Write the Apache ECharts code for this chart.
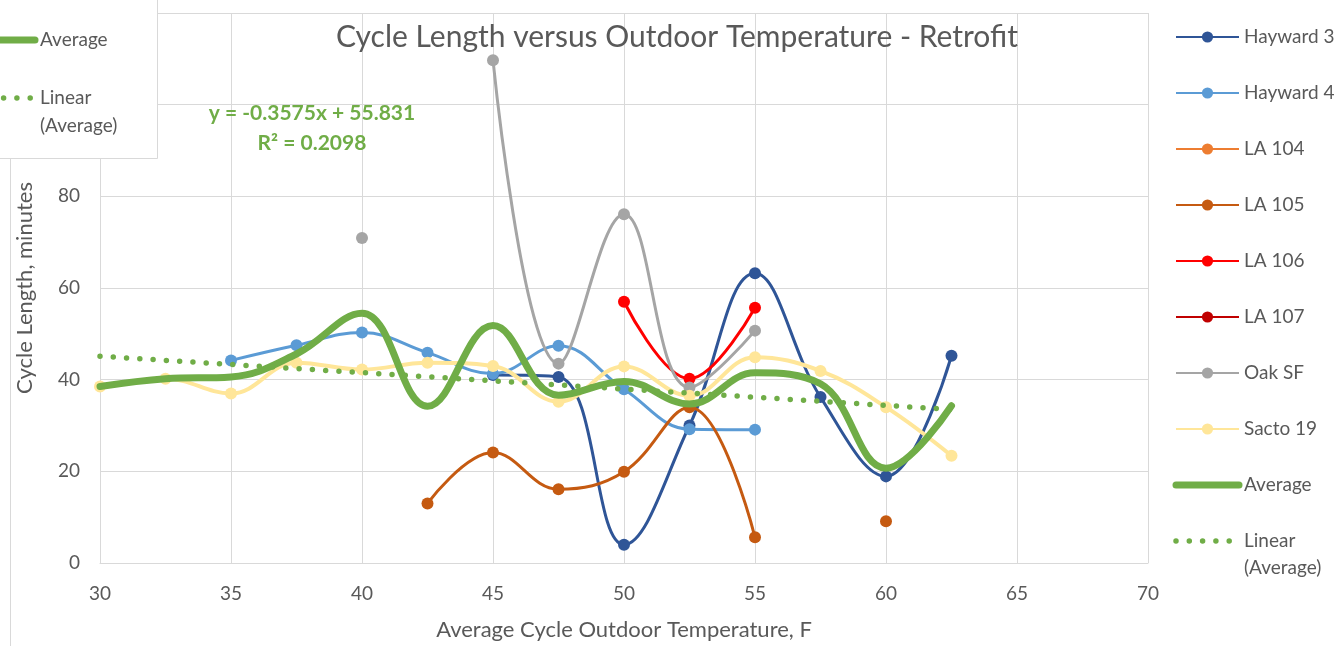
<!DOCTYPE html>
<html>
<head>
<meta charset="utf-8">
<script src="https://cdn.jsdelivr.net/npm/echarts@6/dist/echarts.min.js"></script>
<style>
  html, body { margin: 0; padding: 0; background: #ffffff; }
  #chart { width: 1337px; height: 646px; }
</style>
</head>
<body>
<div id="chart"></div>
<script>
// Average cycle outdoor temperature (F) at which cycle lengths were binned
const TEMPS = [30, 32.5, 35, 37.5, 40, 42.5, 45, 47.5, 50, 52.5, 55, 57.5, 60, 62.5];

// Cycle length in minutes per site (null = no cycles in that bin)
const HAYWARD_3 = [null, null, null, null, null, null, 41, 40.6, 4, 30, 63.2, 36.2, 18.9, 45.2];
const HAYWARD_4 = [null, null, 44.2, 47.5, 50.3, 45.9, 41.3, 47.4, 37.9, 29.2, 29.1, null, null, null];
const LA_104 = [null, null, null, null, null, null, null, null, null, null, null, null, null, null];
const LA_105 = [null, null, null, null, null, 13, 24.1, 16.1, 19.9, 34, 5.6, null, 9.1, null];
const LA_106 = [null, null, null, null, null, null, null, null, 57, 40.2, 55.7, null, null, null];
const LA_107 = [null, null, null, null, null, null, null, null, null, null, null, null, null, null];
const OAK_SF = [null, null, null, null, 70.9, null, 109.7, 43.5, 76.1, 38.3, 50.7, null, null, null];
const SACTO_19 = [38.5, 40.2, 37, 43.7, 42.2, 43.7, 43, 35.2, 42.9, 36.5, 44.9, 41.9, 34, 23.4];
const AVERAGE = [38.5, 40.2, 40.6, 45.6, 54.5, 34.2, 51.8, 36.6, 39.6, 34.7, 41.5, 39.1, 20.7, 34.3];

// Linear fit of the average curve
const TREND_SLOPE = -0.3575;
const TREND_INTERCEPT = 55.831;
const TREND_R2 = 0.2098;
const TREND_RANGE = [30, 62.5];

// Axis ranges and tick steps
const X_MIN = 30, X_MAX = 70, X_STEP = 5;
const Y_MIN = 0, Y_MAX = 120, Y_STEP = 20;

const SITES = [
  { name: 'Hayward 3', values: HAYWARD_3, color: '#2F5597' },
  { name: 'Hayward 4', values: HAYWARD_4, color: '#5B9BD5' },
  { name: 'LA 104', values: LA_104, color: '#ED7D31' },
  { name: 'LA 105', values: LA_105, color: '#C55A11' },
  { name: 'LA 106', values: LA_106, color: '#FF0000' },
  { name: 'LA 107', values: LA_107, color: '#C00000' },
  { name: 'Oak SF', values: OAK_SF, color: '#A5A5A5' },
  { name: 'Sacto 19', values: SACTO_19, color: '#FFE699', width: 4 }
];
const AVG_NAME = 'Average';
const TREND_NAME = 'Linear (Average)';
const GREEN = '#70AD47';
const FONT = 'Lato';
const TEXT_GREY = '#595959';
const GRID_GREY = '#D9D9D9';

const AVG_LINE = { width: 7, color: GREEN, cap: 'round', join: 'round' };
const TREND_LINE = { width: 5.5, color: GREEN, type: [0, 13.3], cap: 'round' };

const toPoints = arr => TEMPS.map((t, i) => [t, arr[i] == null ? '-' : arr[i]]);
const trendAt = x => TREND_SLOPE * x + TREND_INTERCEPT;

const siteSeries = SITES.map((s, i) => ({
  name: s.name,
  type: 'line',
  data: toPoints(s.values),
  smooth: 0.4,
  connectNulls: false,
  symbol: 'circle',
  symbolSize: 12,
  showSymbol: true,
  color: s.color,
  lineStyle: { width: s.width || 3, color: s.color },
  itemStyle: { color: s.color },
  z: 2 + i * 0.01,
  emphasis: { disabled: true }
}));

const avgSeries = {
  name: AVG_NAME,
  type: 'line',
  data: toPoints(AVERAGE),
  smooth: 0.4,
  symbol: 'none',
  color: GREEN,
  lineStyle: AVG_LINE,
  z: 3,
  emphasis: { disabled: true }
};

const trendSeries = {
  name: TREND_NAME,
  type: 'line',
  data: TREND_RANGE.map(x => [x, trendAt(x)]),
  symbol: 'none',
  color: GREEN,
  lineStyle: TREND_LINE,
  z: 3.1,
  emphasis: { disabled: true }
};

// Legend entries for the green lines: line only, no marker
const greenLegendItems = [
  { name: AVG_NAME, itemStyle: { opacity: 0 }, lineStyle: AVG_LINE },
  { name: TREND_NAME, itemStyle: { opacity: 0 }, lineStyle: TREND_LINE }
];

const legendName = n => (n === TREND_NAME ? 'Linear' : n);
const fmtNum = (v, d) => v.toFixed(d);
const eqText = 'y = ' + fmtNum(TREND_SLOPE, 4) + 'x + ' + fmtNum(TREND_INTERCEPT, 3);
const r2Text = 'R\u00B2 = ' + fmtNum(TREND_R2, 4);

const chart = echarts.init(document.getElementById('chart'), null, { renderer: 'canvas' });
chart.setOption({
  animation: false,
  backgroundColor: '#ffffff',
  title: {
    text: 'Cycle Length versus Outdoor Temperature - Retrofit',
    left: 336,
    top: 19,
    padding: 0,
    textStyle: { fontFamily: FONT, fontSize: 30, fontWeight: 'normal', color: TEXT_GREY, lineHeight: 36 }
  },
  grid: { left: 100, right: 189, top: 13, bottom: 80, containLabel: false },
  xAxis: {
    type: 'value',
    min: X_MIN, max: X_MAX, interval: X_STEP,
    name: 'Average Cycle Outdoor Temperature, F',
    nameLocation: 'middle',
    nameGap: 56,
    nameTextStyle: { fontFamily: FONT, fontSize: 22, color: TEXT_GREY },
    axisLine: { show: true, lineStyle: { color: GRID_GREY, width: 1 } },
    axisTick: { show: false },
    axisLabel: { fontFamily: FONT, fontSize: 19, color: TEXT_GREY, margin: 21 },
    splitLine: { show: true, lineStyle: { color: GRID_GREY, width: 1 } }
  },
  yAxis: {
    type: 'value',
    min: Y_MIN, max: Y_MAX, interval: Y_STEP,
    name: 'Cycle Length, minutes',
    nameLocation: 'middle',
    nameRotate: 90,
    nameGap: 59,
    nameTextStyle: { fontFamily: FONT, fontSize: 22, color: TEXT_GREY },
    axisLine: { show: true, lineStyle: { color: GRID_GREY, width: 1 } },
    axisTick: { show: false },
    axisLabel: { fontFamily: FONT, fontSize: 19, color: TEXT_GREY, margin: 20 },
    splitLine: { show: true, lineStyle: { color: GRID_GREY, width: 1 } }
  },
  legend: [
    {
      orient: 'vertical',
      left: 1172.5,
      top: 27,
      padding: 0,
      itemWidth: 63,
      itemHeight: 14,
      itemGap: 36,
      z: 60,
      selectedMode: false,
      formatter: legendName,
      textStyle: { fontFamily: FONT, fontSize: 19, color: TEXT_GREY, lineHeight: 20 },
      data: SITES.map(s => s.name).concat(greenLegendItems)
    },
    {
      orient: 'vertical',
      left: -26.5,
      top: 30,
      padding: 0,
      itemWidth: 58,
      itemHeight: 14,
      itemGap: 38,
      z: 60,
      selectedMode: false,
      formatter: legendName,
      textStyle: { fontFamily: FONT, fontSize: 19, color: TEXT_GREY, lineHeight: 20 },
      data: greenLegendItems
    }
  ],
  graphic: {
    elements: [
      {
        type: 'rect', z: 50, silent: true,
        shape: { x: -20.5, y: -20.5, width: 178, height: 179 },
        style: { fill: '#ffffff', stroke: GRID_GREY, lineWidth: 1 }
      },
      {
        type: 'line', z: 50, silent: true,
        shape: { x1: 10.5, y1: 158.5, x2: 10.5, y2: 646 },
        style: { stroke: GRID_GREY, lineWidth: 1 }
      },
      {
        type: 'text', z: 61, silent: true, left: 40, top: 116,
        style: { text: '(Average)', font: '19px ' + FONT, fill: TEXT_GREY }
      },
      {
        type: 'text', z: 61, silent: true, left: 1244, top: 558,
        style: { text: '(Average)', font: '19px ' + FONT, fill: TEXT_GREY }
      },
      {
        type: 'text', z: 61, silent: true, x: 312, y: 113,
        style: { text: eqText, font: 'bold 21px ' + FONT, fill: GREEN, align: 'center', verticalAlign: 'middle' }
      },
      {
        type: 'text', z: 61, silent: true, x: 312, y: 143,
        style: { text: r2Text, font: 'bold 21px ' + FONT, fill: GREEN, align: 'center', verticalAlign: 'middle' }
      }
    ]
  },
  series: siteSeries.concat([avgSeries, trendSeries])
});
</script>
</body>
</html>
